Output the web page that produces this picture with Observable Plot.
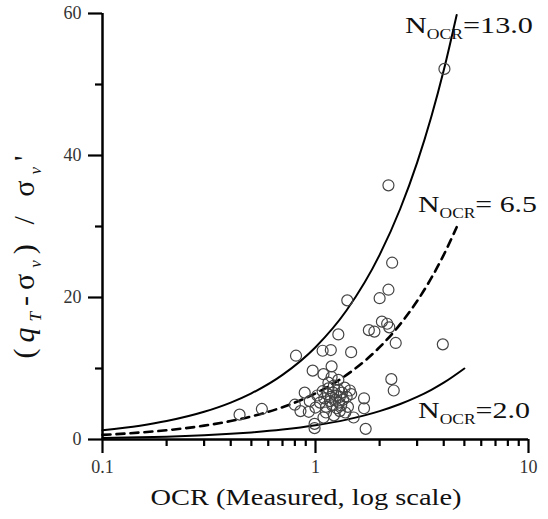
<!DOCTYPE html>
<html><head><meta charset="utf-8">
<script src="https://cdn.jsdelivr.net/npm/d3@7"></script>
<script src="https://cdn.jsdelivr.net/npm/@observablehq/plot@0.6"></script>
<style>html,body{margin:0;padding:0;background:#fff} svg{display:block} svg text{font-family:"Liberation Serif","DejaVu Serif",serif}</style>
</head><body><div id="chart"></div>
<script>
// measured points: OCR and (qT - σv)/σ'v
const ocr = [4.03,2.20,2.29,2.20,2.00,1.41,2.05,2.17,2.22,1.78,1.89,1.28,2.38,3.96,0.81,1.08,1.18,1.47,1.19,0.97,1.09,1.19,1.28,2.27,2.33,0.89,0.56,0.44,0.80,0.85,1.00,0.99,0.99,1.72,1.51,1.09,1.22,1.38,1.69,1.69,1.45,1.47,
  1.02,1.05,1.08,1.10,1.12,1.14,1.15,1.17,1.18,1.20,1.21,1.22,1.24,1.25,1.26,1.28,1.29,1.30,1.32,1.33,1.35,1.37,1.40,1.42,1.12,1.30,1.15,0.94,0.93];
const qNorm = [52.2,35.8,24.9,21.1,19.9,19.6,16.6,16.3,15.8,15.4,15.2,14.8,13.6,13.4,11.8,12.5,12.6,12.3,10.3,9.7,9.2,8.8,8.4,8.5,6.9,6.6,4.3,3.5,4.9,4.0,4.5,2.2,1.6,1.5,3.1,3.1,3.4,3.8,5.8,4.4,6.9,6.4,
  6.2,5.2,6.8,5.8,4.6,6.4,7.2,5.4,6.0,4.8,6.6,7.6,5.6,6.2,4.4,7.0,5.2,6.0,4.8,6.6,5.6,7.3,6.0,4.6,3.8,4.0,8.0,5.4,3.9];

// reference curves N_OCR = 13.0, 6.5, 2.0
const curveOcr = [0.1,0.15,0.2,0.3,0.4,0.5,0.7,1,1.4,2,2.5,3,3.5,4,4.6];
const curve13 = [1.3,1.95,2.6,3.9,5.2,6.5,9.1,13,18.2,26,32.5,39,45.5,52,59.8];
const curve65 = [0.65,0.98,1.3,1.95,2.6,3.25,4.55,6.5,9.1,13,16.25,19.5,22.75,26,29.9];
const curveOcr2 = [0.1,0.15,0.2,0.3,0.4,0.5,0.7,1,1.4,2,2.5,3,3.5,4,5];
const curve2 = [0.2,0.3,0.4,0.6,0.8,1.0,1.4,2,2.8,4,5,6,7,8,10];

// ticks
const xMajor = [0.1,1,10];
const xMajorLabels = ["0.1","1","10"];
const xMinor = [0.2,0.3,0.4,0.5,0.6,0.7,0.8,0.9,2,3,4,5,6,7,8,9];
const yMajor = [0,20,40,60];
const yMinor = [10,30,50];

// curve annotations
const annValue = ["=13.0","= 6.5","=2.0"];
const annOcr = [2.645,3.045,3.045];
const annQ = [57.2,32.0,2.96];

const font = "Liberation Serif, DejaVu Serif, serif";
const xLab = new Map(xMajor.map((d,i)=>[d,xMajorLabels[i]]));
const line13 = curveOcr.map((x,i)=>({x, y: curve13[i]}));
const line65 = curveOcr.map((x,i)=>({x, y: curve65[i]}));
const line2 = curveOcr2.map((x,i)=>({x, y: curve2[i]}));

const plot = Plot.plot({
  width: 548, height: 519,
  marginLeft: 102, marginRight: 20, marginTop: 13, marginBottom: 80,
  style: {fontFamily: font, background: "#fff", color: "#000"},
  x: {type: "log", domain: [0.1, 10]},
  y: {domain: [0, 60]},
  marks: [
    Plot.axisX(xMinor, {tickSize: 7, tickFormat: () => "", strokeWidth: 2.2, label: null}),
    Plot.axisX(xMajor, {tickSize: 14, tickPadding: 7, tickFormat: d => xLab.get(d), fontSize: 18, strokeWidth: 2.2, label: null, fill: "#333"}),
    Plot.axisY(yMinor, {tickSize: 7, tickFormat: () => "", strokeWidth: 2.2, label: null}),
    Plot.axisY(yMajor, {tickSize: 14, tickPadding: 7, fontSize: 18, strokeWidth: 2.2, label: null, fill: "#333"}),
    Plot.ruleY([0], {strokeWidth: 2.5}),
    Plot.ruleX([0.1], {strokeWidth: 2.5}),
    Plot.line(line13, {x: "x", y: "y", curve: "monotone-x", strokeWidth: 2}),
    Plot.line(line65, {x: "x", y: "y", curve: "monotone-x", strokeWidth: 2.6, strokeDasharray: "8,6"}),
    Plot.line(line2, {x: "x", y: "y", curve: "monotone-x", strokeWidth: 2}),
    Plot.dot(ocr.map((x,i)=>({x, y: qNorm[i]})), {x: "x", y: "y", r: 5.5, stroke: "#444", strokeWidth: 1.2, fill: "none"})
  ]
});

const svg = d3.select(plot);
const sx = plot.scale("x"), sy = plot.scale("y");
const annWidth = [128, 119, 112];
annValue.forEach((v,i) => {
  const t = svg.append("text")
    .attr("x", sx.apply(annOcr[i])).attr("y", sy.apply(annQ[i]))
    .attr("text-anchor", "start")
    .attr("font-size", 24).attr("fill", "#111")
    .attr("textLength", annWidth[i]).attr("lengthAdjust", "spacingAndGlyphs");
  t.append("tspan").text("N");
  t.append("tspan").attr("font-size", 14).attr("dy", 6).text("OCR");
  t.append("tspan").attr("dy", -6).text(v);
});

// x title
svg.append("text").attr("x", 306).attr("y", 505)
  .attr("text-anchor", "middle").attr("font-size", 23).attr("fill", "#111")
  .attr("textLength", 311).attr("lengthAdjust", "spacingAndGlyphs")
  .text("OCR (Measured, log scale)");

// y title
const yt = svg.append("text").attr("transform", "translate(34,257) rotate(-90)")
  .attr("text-anchor", "middle").attr("font-size", 30).attr("fill", "#111")
  .attr("textLength", 203).attr("lengthAdjust", "spacing");
yt.append("tspan").text("(");
yt.append("tspan").attr("font-style", "italic").text("q");
yt.append("tspan").attr("font-style", "italic").attr("font-size", 17).attr("dy", 7).text("T");
yt.append("tspan").attr("dy", -7).text("-σ");
yt.append("tspan").attr("font-style", "italic").attr("font-size", 17).attr("dy", 7).text("v");
yt.append("tspan").attr("dy", -7).text(") / σ");
yt.append("tspan").attr("font-style", "italic").attr("font-size", 17).attr("dy", 7).text("v");
yt.append("tspan").attr("dy", -7).text("'");

document.getElementById("chart").appendChild(plot);
</script>
</body></html>
